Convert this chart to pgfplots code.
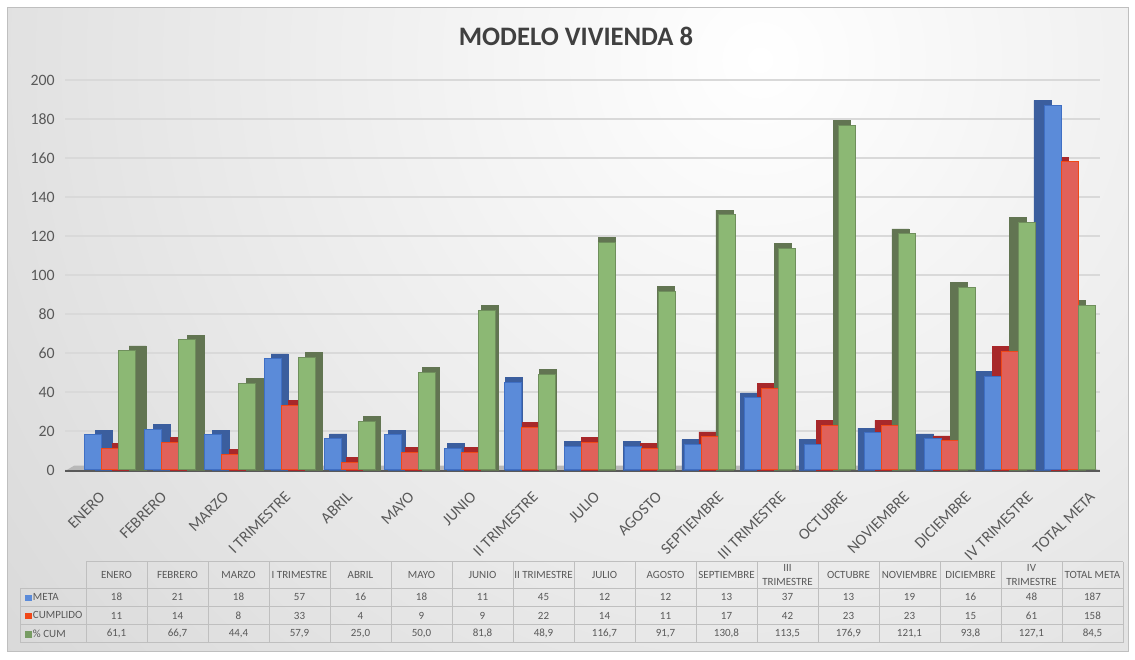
\documentclass[border=0pt]{standalone}
\usepackage{pgfplots}
\pgfplotsset{compat=1.18}
\usepackage{pgfplotstable}
\usepackage{fontspec}
\setmainfont{Carlito}
\definecolor{txt}{HTML}{595959}
\definecolor{ttl}{HTML}{404040}
\definecolor{gridc}{HTML}{D9D9D9}
\definecolor{tline}{HTML}{BFBFBF}
\definecolor{bgout}{HTML}{C4C4C4}
\definecolor{blueF}{HTML}{5B8BD9}
\definecolor{blueB}{HTML}{3B5E9E}
\definecolor{blueE}{HTML}{3F6FC4}
\definecolor{redF}{HTML}{E0615A}
\definecolor{redB}{HTML}{A8282A}
\definecolor{redE}{HTML}{F04818}
\definecolor{greenF}{HTML}{8CB874}
\definecolor{greenB}{HTML}{627552}
\definecolor{greenE}{HTML}{6F8F5C}
\definecolor{floorc}{HTML}{B8B8B8}
\definecolor{basec}{HTML}{595959}
\newcommand\tf{\fontsize{6.6}{8.2}\selectfont}
\newcommand\kf{\fontsize{9.5}{11}\selectfont}

\pgfplotstableread[col sep=semicolon]{
i;m;c;p;ptxt
0;18;11;61.1;61,1
1;21;14;66.7;66,7
2;18;8;44.4;44,4
3;57;33;57.9;57,9
4;16;4;25.0;25,0
5;18;9;50.0;50,0
6;11;9;81.8;81,8
7;45;22;48.9;48,9
8;12;14;116.7;116,7
9;12;11;91.7;91,7
10;13;17;130.8;130,8
11;37;42;113.5;113,5
12;13;23;176.9;176,9
13;19;23;121.1;121,1
14;16;15;93.8;93,8
15;48;61;127.1;127,1
16;187;158;84.5;84,5
}\data

\begin{document}
\begin{tikzpicture}[x=0.6pt,y=0.6pt]
\fill[white] (0,0) rectangle (1135,660);
\begin{scope}
\clip (7,8) rectangle (1128,652);
\shade[inner color=white, outer color=bgout] (760,600) circle (1500);
\end{scope}
\draw[tline, line width=0.6pt] (7,8) rectangle (1128,652);
\node[font=\fontsize{16}{19}\selectfont\bfseries, text=ttl] at (576,624) {MODELO VIVIENDA 8};

% main chart
\begin{axis}[
  at={(39pt,114pt)}, anchor=south west,
  scale only axis, width=621pt, height=234pt,
  xmin=-0.75, xmax=16.5, ymin=0, ymax=200,
  axis line style={draw=none},
  major tick length=0pt,
  ymajorgrids, grid style={draw=gridc, line width=0.7pt},
  ytick={0,20,...,200},
  xtick={-0.217,0.814,1.846,2.877,3.908,4.940,5.971,7.002,8.033,9.065,10.096,11.127,12.158,13.190,14.221,15.252,16.283},
  xticklabels={ENERO,FEBRERO,MARZO,I TRIMESTRE,ABRIL,MAYO,JUNIO,II TRIMESTRE,JULIO,AGOSTO,SEPTIEMBRE,III TRIMESTRE,OCTUBRE,NOVIEMBRE,DICIEMBRE,IV TRIMESTRE,TOTAL META},
  xticklabel style={rotate=45, anchor=north east, inner sep=0pt, font=\kf, text=txt, yshift=-9.2pt, xshift=-8pt},
  yticklabel style={anchor=east, inner sep=0pt, xshift=-6pt, font=\kf, text=txt},
  /pgf/number format/assume math mode=true,
  clip=false,
]
\fill[floorc] (axis cs:-0.75,-0.6) -- (axis cs:16.5,-0.6) -- (axis cs:16.35,2.2) -- (axis cs:-0.6,2.2) -- cycle;
\draw[basec, line width=1.4pt] (axis cs:-0.75,-0.6) -- (axis cs:16.5,-0.6);
% side / depth faces
\addplot[ybar, bar width=10.2pt, bar shift=-10.2pt, fill=blueB, draw=blueB] table[x expr={\thisrow{i}+(8-\thisrow{i})*0.022}, y expr={\thisrow{m}+2.5}] {\data};
\addplot[ybar, bar width=10.2pt, bar shift=0pt, fill=redB, draw=redB] table[x expr={\thisrow{i}+(8-\thisrow{i})*0.022}, y expr={\thisrow{c}+2.5}] {\data};
\addplot[ybar, bar width=10.2pt, bar shift=10.2pt, fill=greenB, draw=greenB] table[x expr={\thisrow{i}+(8-\thisrow{i})*0.022}, y expr={\thisrow{p}+2.5}] {\data};
% front faces
\addplot[ybar, bar width=10.2pt, bar shift=-10.2pt, fill=blueF, draw=blueE, line width=0.6pt] table[x=i, y=m] {\data};
\addplot[ybar, bar width=10.2pt, bar shift=0pt, fill=redF, draw=redE, line width=0.6pt] table[x=i, y=c] {\data};
\addplot[ybar, bar width=10.2pt, bar shift=10.2pt, fill=greenF, draw=greenE, line width=0.6pt] table[x=i, y=p] {\data};
\end{axis}

% data table
\begin{axis}[
  at={(51.6pt,10.2pt)}, anchor=south west,
  scale only axis, width=622.2pt, height=48.6pt,
  xmin=0, xmax=17, ymin=0, ymax=4.42,
  axis line style={draw=none},
  major tick length=0pt,
  ytick=\empty,
  xtick={0.5,1.5,...,16.5},
  xticklabels={ENERO,FEBRERO,MARZO,I TRIMESTRE,ABRIL,MAYO,JUNIO,II TRIMESTRE,JULIO,AGOSTO,SEPTIEMBRE,{III\\TRIMESTRE},OCTUBRE,NOVIEMBRE,DICIEMBRE,{IV\\TRIMESTRE},TOTAL META},
  xticklabel pos=upper,
  xticklabel style={anchor=center, align=center, font=\tf, text=txt, yshift=-7.7pt},
  clip=false,
  every node near coord/.style={anchor=center, font=\tf, text=txt},
]
\pgfplotsinvokeforeach{0,...,17}{\draw[tline, line width=0.6pt] (axis cs:#1,0) -- (axis cs:#1,4.42);}
\draw[tline, line width=0.6pt] (axis cs:-1.066,0) -- (axis cs:-1.066,3);
\pgfplotsinvokeforeach{0,1,2,3}{\draw[tline, line width=0.6pt] (axis cs:-1.066,#1) -- (axis cs:17,#1);}
\draw[tline, line width=0.6pt] (axis cs:0,4.42) -- (axis cs:17,4.42);
\node[anchor=west, inner sep=0pt, font=\tf, text=txt] at (axis cs:-1.0,2.5) {\textcolor{blueF}{\rule[-0.2pt]{3.8pt}{3.8pt}}\hspace{0.8pt}META};
\node[anchor=west, inner sep=0pt, font=\tf, text=txt] at (axis cs:-1.0,1.5) {\textcolor{redE}{\rule[-0.2pt]{3.8pt}{3.8pt}}\hspace{0.8pt}CUMPLIDO};
\node[anchor=west, inner sep=0pt, font=\tf, text=txt] at (axis cs:-1.0,0.5) {\textcolor{greenF!85!black}{\rule[-0.2pt]{3.8pt}{3.8pt}}\hspace{0.8pt}\% CUM};
\addplot[draw=none, nodes near coords, point meta=explicit symbolic] table[x expr={\thisrow{i}+0.5}, y expr={2.5}, meta=m] {\data};
\addplot[draw=none, nodes near coords, point meta=explicit symbolic] table[x expr={\thisrow{i}+0.5}, y expr={1.5}, meta=c] {\data};
\addplot[draw=none, nodes near coords, point meta=explicit symbolic] table[x expr={\thisrow{i}+0.5}, y expr={0.5}, meta=ptxt] {\data};
\end{axis}
\end{tikzpicture}
\end{document}
